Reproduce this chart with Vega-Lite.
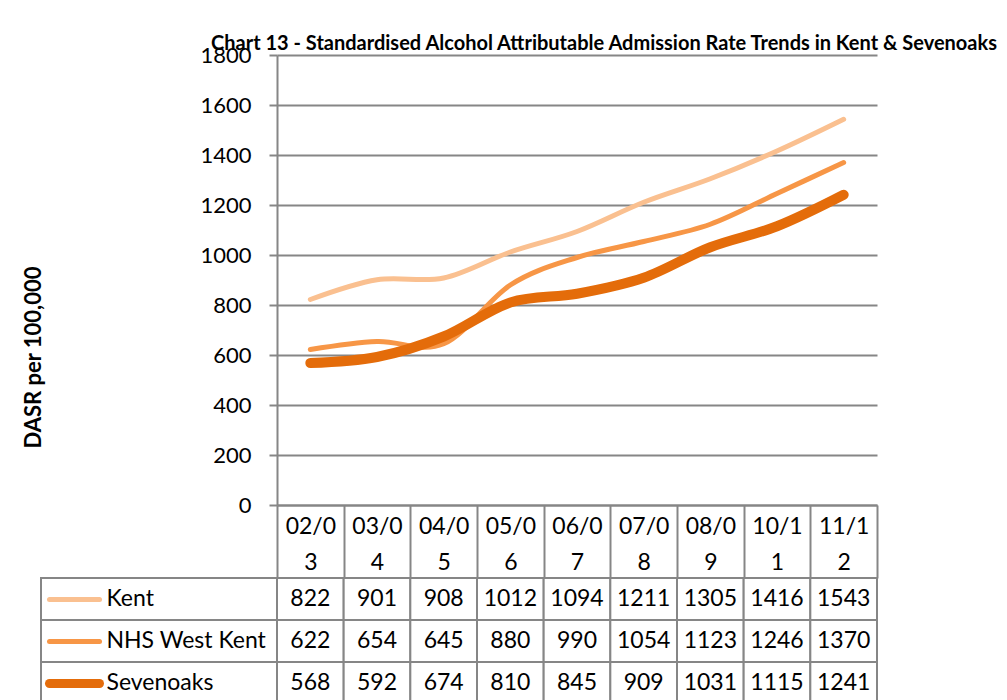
{
  "$schema": "https://vega.github.io/schema/vega-lite/v6.json",
  "padding": {"left": 22, "top": 34, "right": 5, "bottom": 0},
  "background": "white",
  "config": {"font": "Lato", "view": {"stroke": null}},
  "datasets": {
    "rates": [
      {"series": "Kent", "period": "02/03", "value": 822},
      {"series": "Kent", "period": "03/04", "value": 901},
      {"series": "Kent", "period": "04/05", "value": 908},
      {"series": "Kent", "period": "05/06", "value": 1012},
      {"series": "Kent", "period": "06/07", "value": 1094},
      {"series": "Kent", "period": "07/08", "value": 1211},
      {"series": "Kent", "period": "08/09", "value": 1305},
      {"series": "Kent", "period": "10/11", "value": 1416},
      {"series": "Kent", "period": "11/12", "value": 1543},
      {"series": "NHS West Kent", "period": "02/03", "value": 622},
      {"series": "NHS West Kent", "period": "03/04", "value": 654},
      {"series": "NHS West Kent", "period": "04/05", "value": 645},
      {"series": "NHS West Kent", "period": "05/06", "value": 880},
      {"series": "NHS West Kent", "period": "06/07", "value": 990},
      {"series": "NHS West Kent", "period": "07/08", "value": 1054},
      {"series": "NHS West Kent", "period": "08/09", "value": 1123},
      {"series": "NHS West Kent", "period": "10/11", "value": 1246},
      {"series": "NHS West Kent", "period": "11/12", "value": 1370},
      {"series": "Sevenoaks", "period": "02/03", "value": 568},
      {"series": "Sevenoaks", "period": "03/04", "value": 592},
      {"series": "Sevenoaks", "period": "04/05", "value": 674},
      {"series": "Sevenoaks", "period": "05/06", "value": 810},
      {"series": "Sevenoaks", "period": "06/07", "value": 845},
      {"series": "Sevenoaks", "period": "07/08", "value": 909},
      {"series": "Sevenoaks", "period": "08/09", "value": 1031},
      {"series": "Sevenoaks", "period": "10/11", "value": 1115},
      {"series": "Sevenoaks", "period": "11/12", "value": 1241}
    ],
    "series": [
      {"series": "Kent"},
      {"series": "NHS West Kent"},
      {"series": "Sevenoaks"}
    ],
    "empty": []
  },
  "columns": 2,
  "spacing": {"row": 73, "column": 0},
  "bounds": "flush",
  "concat": [
    {
      "width": 236,
      "height": 450,
      "data": {"name": "empty"},
      "mark": "point"
    },
    {
      "width": 600,
      "height": 450,
      "title": {
        "text": "Chart 13 - Standardised Alcohol Attributable Admission Rate Trends in Kent & Sevenoaks",
        "fontSize": 20,
        "fontWeight": "bold",
        "color": "black",
        "anchor": "middle",
        "frame": "group",
        "dx": 27,
        "dy": 14
      },
      "data": {"name": "rates"},
      "mark": {"type": "line", "interpolate": "cardinal", "strokeCap": "round", "strokeJoin": "round"},
      "encoding": {
        "x": {
          "field": "period",
          "type": "ordinal",
          "sort": ["02/03", "03/04", "04/05", "05/06", "06/07", "07/08", "08/09", "10/11", "11/12"],
          "scale": {"type": "band", "paddingInner": 0, "paddingOuter": 0},
          "axis": {
            "title": null,
            "labelAngle": 0,
            "labelExpr": "[slice(datum.label, 0, 4), slice(datum.label, 4)]",
            "labelFontSize": 23,
            "labelLineHeight": 36,
            "labelColor": "black",
            "labelPadding": -63,
            "labelOverlap": false,
            "labelFlush": false,
            "domainColor": "#868686",
            "domainWidth": 2,
            "tickBand": "extent",
            "tickSize": 73,
            "tickColor": "#868686",
            "tickWidth": 2
          }
        },
        "y": {
          "field": "value",
          "type": "quantitative",
          "scale": {"domain": [0, 1800], "nice": false},
          "axis": {
            "title": "DASR per 100,000",
            "titleFontSize": 22,
            "titleFontWeight": "bold",
            "titleColor": "black",
            "titleAngle": -90,
            "titleBaseline": "alphabetic",
            "titleAlign": "center",
            "titleX": -237,
            "titleY": 302,
            "values": [0, 200, 400, 600, 800, 1000, 1200, 1400, 1600, 1800],
            "format": "d",
            "grid": true,
            "gridColor": "#868686",
            "gridWidth": 2,
            "domainColor": "#868686",
            "domainWidth": 2,
            "tickColor": "#868686",
            "tickWidth": 2,
            "tickSize": 8,
            "labelFontSize": 22,
            "labelColor": "black",
            "labelPadding": 18
          }
        },
        "color": {
          "field": "series",
          "type": "nominal",
          "scale": {"domain": ["Kent", "NHS West Kent", "Sevenoaks"], "range": ["#FAC090", "#F79646", "#E46C0A"]},
          "legend": null
        },
        "strokeWidth": {"condition": {"test": "datum.series === 'Sevenoaks'", "value": 10}, "value": 5}
      }
    },
    {
      "width": 236,
      "height": 126,
      "data": {"name": "series"},
      "mark": {"type": "rect", "fill": "white", "stroke": "#868686", "strokeWidth": 2},
      "encoding": {
        "y": {
          "field": "series",
          "type": "nominal",
          "sort": ["Kent", "NHS West Kent", "Sevenoaks"],
          "scale": {"type": "band", "paddingInner": 0, "paddingOuter": 0},
          "axis": {
            "title": null,
            "zindex": 1,
            "domain": false,
            "offset": -58,
            "tickSize": 50,
            "tickCap": "round",
            "tickColor": {
              "condition": [
                {"test": "datum.value === 'Kent'", "value": "#FAC090"},
                {"test": "datum.value === 'NHS West Kent'", "value": "#F79646"}
              ],
              "value": "#E46C0A"
            },
            "tickWidth": {"condition": {"test": "datum.value === 'Sevenoaks'", "value": 9}, "value": 5},
            "labelAlign": "left",
            "labelBaseline": "middle",
            "labelPadding": -57,
            "labelFontSize": 23,
            "labelColor": "black",
            "labelOverlap": false,
            "labelLimit": 300
          }
        }
      }
    },
    {
      "width": 600,
      "height": 126,
      "data": {"name": "rates"},
      "layer": [
        {
          "mark": {"type": "rect", "fill": "white", "stroke": "#868686", "strokeWidth": 2},
          "encoding": {
            "x": {"field": "period", "type": "ordinal", "sort": ["02/03", "03/04", "04/05", "05/06", "06/07", "07/08", "08/09", "10/11", "11/12"], "scale": {"type": "band", "paddingInner": 0, "paddingOuter": 0}, "axis": null},
            "y": {"field": "series", "type": "nominal", "sort": ["Kent", "NHS West Kent", "Sevenoaks"], "scale": {"type": "band", "paddingInner": 0, "paddingOuter": 0}, "axis": null}
          }
        },
        {
          "mark": {"type": "text", "fontSize": 23, "color": "black"},
          "encoding": {
            "x": {"field": "period", "type": "ordinal", "sort": ["02/03", "03/04", "04/05", "05/06", "06/07", "07/08", "08/09", "10/11", "11/12"], "axis": null},
            "y": {"field": "series", "type": "nominal", "sort": ["Kent", "NHS West Kent", "Sevenoaks"], "axis": null},
            "text": {"field": "value", "type": "quantitative", "format": "d"}
          }
        }
      ]
    }
  ]
}
